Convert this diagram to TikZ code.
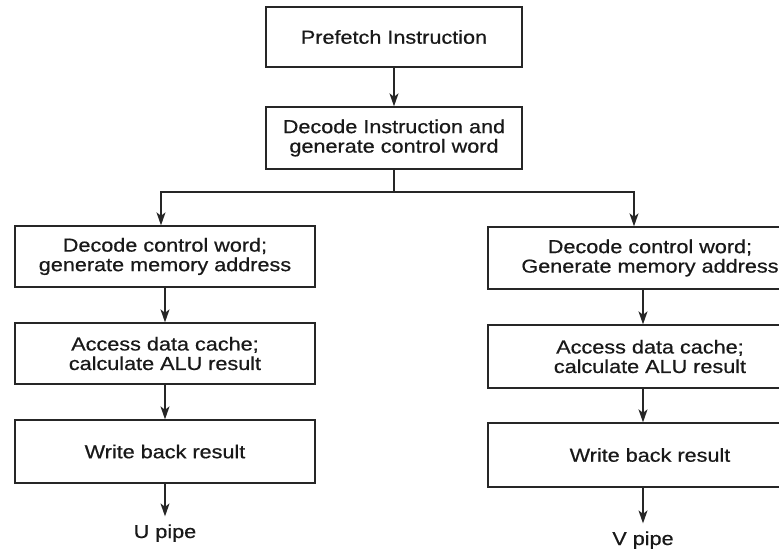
\documentclass[tikz,border=0pt]{standalone}
\usepackage{fontspec}
\newfontfamily\lblfont{Liberation Sans}[FakeStretch=1.15,FakeBold=0.6]
\usetikzlibrary{arrows.meta}
\tikzset{
  stagebox/.style={draw=black!85, line width=1.3pt, rectangle, inner sep=0pt,
    align=center, font=\lblfont\fontsize{18.8}{19.5}\selectfont, text=black!90},
  pipelabel/.style={inner sep=4pt, outer sep=4pt,
    font=\lblfont\fontsize{18.8}{19.5}\selectfont, text=black!90},
  flow/.style={draw=black!85, line width=1.3pt,
    -{Stealth[length=13pt,width=9pt,inset=3.5pt]}},
  wire/.style={draw=black!85, line width=1.3pt}
}
\begin{document}
\begin{tikzpicture}[x=1pt,y=-1pt]
  \fill[white] (0,0) rectangle (779,549);
  \useasboundingbox (0,0) rectangle (779,549);

  % common stages
  \node[stagebox, minimum width=256pt, minimum height=60pt] (pre) at (394,37) {Prefetch Instruction};
  \node[stagebox, minimum width=256pt, minimum height=62pt] (dec) at (394,138)
    {Decode Instruction and\\generate control word};
  \coordinate (split) at (394,192);

  % U pipe
  \node[stagebox, minimum width=300pt, minimum height=61pt] (u1) at (165,256.5)
    {Decode control word;\\generate memory address};
  \node[stagebox, minimum width=300pt, minimum height=61pt] (u2) at (165,353.5)
    {Access data cache;\\calculate ALU result};
  \node[stagebox, minimum width=300pt, minimum height=63pt] (u3) at (165,451.5)
    {Write back result};
  \node[pipelabel, anchor=base] (upipe) at (165,538) {U pipe};

  % V pipe
  \node[stagebox, minimum width=324pt, minimum height=62pt] (v1) at (650,258)
    {Decode control word;\\Generate memory address};
  \node[stagebox, minimum width=324pt, minimum height=63pt] (v2) at (650,356.5)
    {Access data cache;\\calculate ALU result};
  \node[stagebox, minimum width=324pt, minimum height=64pt] (v3) at (650,455)
    {Write back result};
  \node[pipelabel, anchor=base] (vpipe) at (643,545) {V pipe};

  % connectors
  \draw[flow] (pre) -- (dec);
  \draw[wire] (dec.south) -- (split);
  \draw[flow] (split) -| ([xshift=-4pt]u1.north);
  \draw[flow] (split) -| ([xshift=-16pt]v1.north);

  \draw[flow] (u1) -- (u2);
  \draw[flow] (u2) -- (u3);
  \draw[flow] (u3.south) -- (upipe.north);

  \draw[flow] ([xshift=-7pt]v1.south) -- ([xshift=-7pt]v2.north);
  \draw[flow] ([xshift=-7pt]v2.south) -- ([xshift=-7pt]v3.north);
  \draw[flow] ([xshift=-7pt]v3.south) -- (vpipe.north);
\end{tikzpicture}
\end{document}
